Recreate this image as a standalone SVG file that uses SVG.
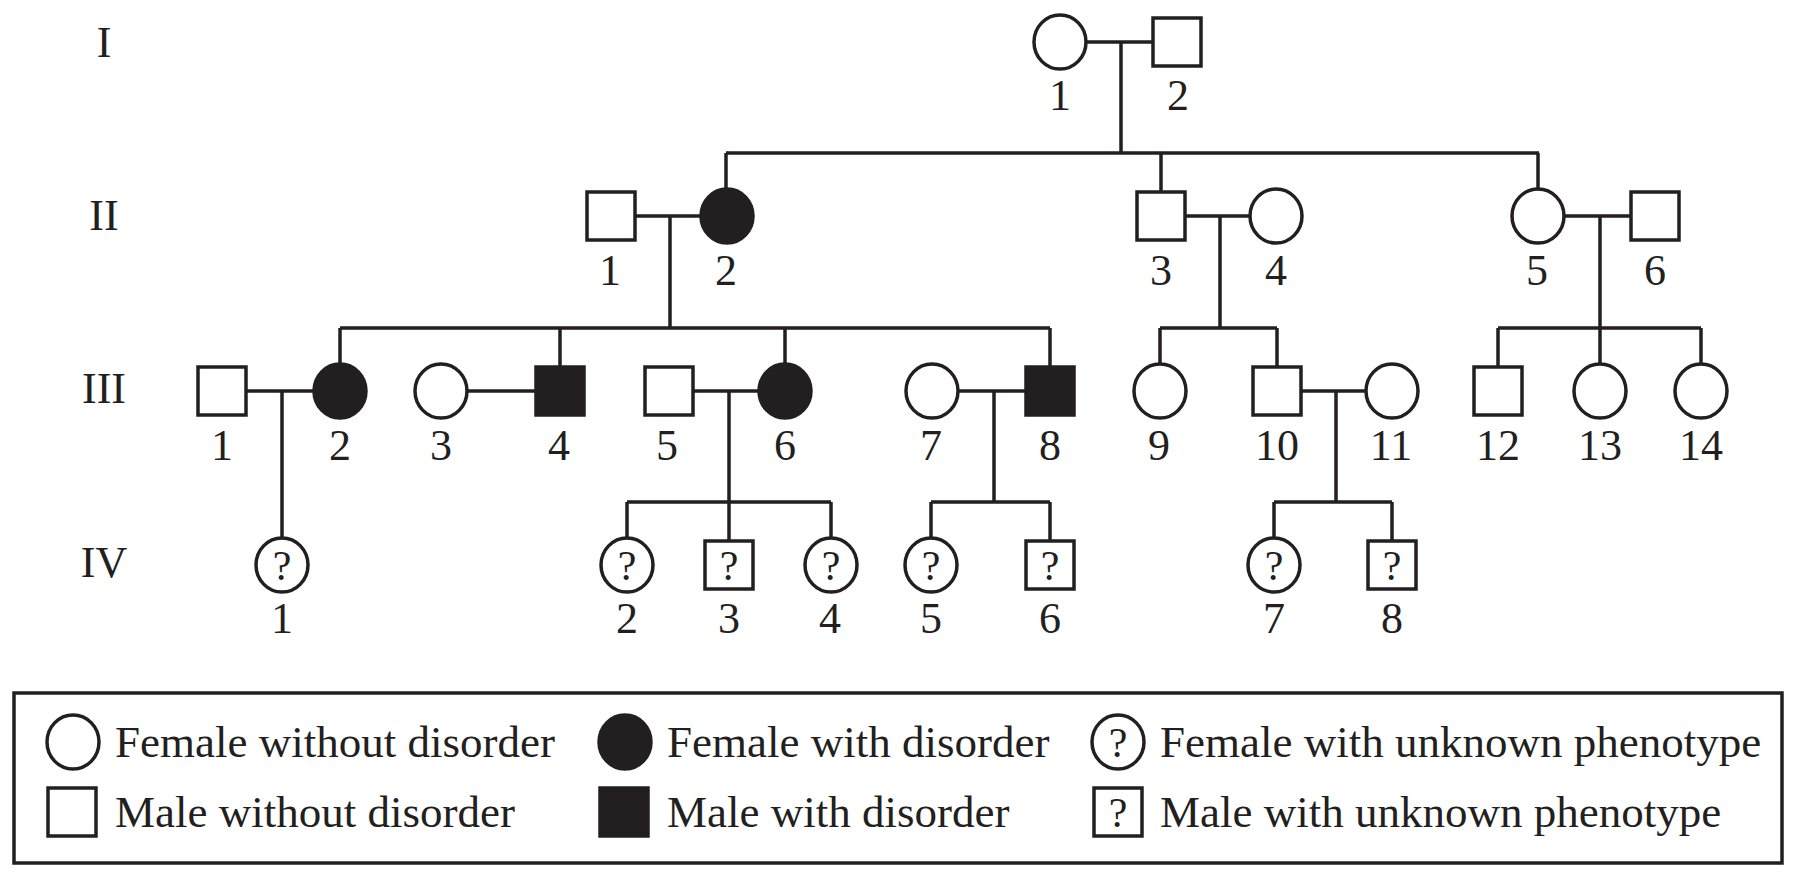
<svg xmlns="http://www.w3.org/2000/svg" width="1800" height="880" viewBox="0 0 1800 880">
<style>
.s{fill:#fff;stroke:#231f20;stroke-width:3.5}
.a{fill:#231f20;stroke:#231f20;stroke-width:3.5}
.ln{fill:none;stroke:#231f20;stroke-width:3.5}
text{font-family:"Liberation Serif","Times New Roman",serif;fill:#231f20}
.n{font-size:44px;text-anchor:middle}
.g{font-size:44px;text-anchor:middle}
.q{font-size:42px;text-anchor:middle}
.lg{font-size:45px}
</style>
<defs>
<ellipse id="fc" rx="26" ry="27" class="s"/>
<ellipse id="fa" rx="26" ry="27" class="a"/>
<rect id="mc" x="-24" y="-24" width="48" height="48" class="s"/>
<rect id="ma" x="-24" y="-24" width="48" height="48" class="a"/>
</defs>
<g id="generation-labels">
<text class="g" x="104" y="57">I</text>
<text class="g" x="104" y="230">II</text>
<text class="g" x="104" y="403">III</text>
<text class="g" x="104" y="577">IV</text>
</g>
<g id="connectors">
<path class="ln" d="M1086 42H1153M1121 42V153M726 153H1539M726 153V189M1161 153V192M1538 153V189"/>
<path class="ln" d="M635 216H701M670 216V328M340 328H1050M340 328V364M560 328V367M785 328V364M1050 328V367"/>
<path class="ln" d="M1185 216H1250M1220 216V328M1160 328H1277M1160 328V364M1277 328V367"/>
<path class="ln" d="M1564 216H1631M1600 216V364M1498 328H1701M1498 328V367M1701 328V364"/>
<path class="ln" d="M246 391H314M282 391V538"/>
<path class="ln" d="M467 391H536"/>
<path class="ln" d="M693 391H759M729 391V502M627 502H831M627 502V538M729 502V541M831 502V538"/>
<path class="ln" d="M958 391H1026M994 391V502M931 502H1050M931 502V538M1050 502V541"/>
<path class="ln" d="M1301 391H1366M1336 391V502M1274 502H1392M1274 502V538M1392 502V541"/>
</g>
<g id="I-1"><use href="#fc" x="1060" y="42"/><text class="n" x="1060" y="110">1</text></g>
<g id="I-2"><use href="#mc" x="1177" y="42"/><text class="n" x="1178" y="110">2</text></g>
<g id="II-1"><use href="#mc" x="611" y="216"/><text class="n" x="610" y="285">1</text></g>
<g id="II-2"><use href="#fa" x="727" y="216"/><text class="n" x="726" y="285">2</text></g>
<g id="II-3"><use href="#mc" x="1161" y="216"/><text class="n" x="1161" y="285">3</text></g>
<g id="II-4"><use href="#fc" x="1276" y="216"/><text class="n" x="1276" y="285">4</text></g>
<g id="II-5"><use href="#fc" x="1538" y="216"/><text class="n" x="1537" y="285">5</text></g>
<g id="II-6"><use href="#mc" x="1655" y="216"/><text class="n" x="1655" y="285">6</text></g>
<g id="III-1"><use href="#mc" x="222" y="391"/><text class="n" x="222" y="460">1</text></g>
<g id="III-2"><use href="#fa" x="340" y="391"/><text class="n" x="340" y="460">2</text></g>
<g id="III-3"><use href="#fc" x="441" y="391"/><text class="n" x="441" y="460">3</text></g>
<g id="III-4"><use href="#ma" x="560" y="391"/><text class="n" x="559" y="460">4</text></g>
<g id="III-5"><use href="#mc" x="669" y="391"/><text class="n" x="667" y="460">5</text></g>
<g id="III-6"><use href="#fa" x="785" y="391"/><text class="n" x="785" y="460">6</text></g>
<g id="III-7"><use href="#fc" x="932" y="391"/><text class="n" x="931" y="460">7</text></g>
<g id="III-8"><use href="#ma" x="1050" y="391"/><text class="n" x="1050" y="460">8</text></g>
<g id="III-9"><use href="#fc" x="1160" y="391"/><text class="n" x="1159" y="460">9</text></g>
<g id="III-10"><use href="#mc" x="1277" y="391"/><text class="n" x="1277" y="460">10</text></g>
<g id="III-11"><use href="#fc" x="1392" y="391"/><text class="n" x="1391" y="460">11</text></g>
<g id="III-12"><use href="#mc" x="1498" y="391"/><text class="n" x="1498" y="460">12</text></g>
<g id="III-13"><use href="#fc" x="1600" y="391"/><text class="n" x="1600" y="460">13</text></g>
<g id="III-14"><use href="#fc" x="1701" y="391"/><text class="n" x="1701" y="460">14</text></g>
<g id="IV-1"><use href="#fc" x="282" y="565"/><text class="q" x="282" y="580">?</text><text class="n" x="282" y="633">1</text></g>
<g id="IV-2"><use href="#fc" x="627" y="565"/><text class="q" x="627" y="580">?</text><text class="n" x="627" y="633">2</text></g>
<g id="IV-3"><use href="#mc" x="729" y="565"/><text class="q" x="729" y="580">?</text><text class="n" x="729" y="633">3</text></g>
<g id="IV-4"><use href="#fc" x="831" y="565"/><text class="q" x="831" y="580">?</text><text class="n" x="830" y="633">4</text></g>
<g id="IV-5"><use href="#fc" x="931" y="565"/><text class="q" x="931" y="580">?</text><text class="n" x="931" y="633">5</text></g>
<g id="IV-6"><use href="#mc" x="1050" y="565"/><text class="q" x="1050" y="580">?</text><text class="n" x="1050" y="633">6</text></g>
<g id="IV-7"><use href="#fc" x="1274" y="565"/><text class="q" x="1274" y="580">?</text><text class="n" x="1274" y="633">7</text></g>
<g id="IV-8"><use href="#mc" x="1392" y="565"/><text class="q" x="1392" y="580">?</text><text class="n" x="1392" y="633">8</text></g>
<g id="legend">
<rect x="14" y="693" width="1768" height="170" fill="none" stroke="#231f20" stroke-width="3.5"/>
<use href="#fc" x="73" y="742"/>
<text class="lg" x="115" y="757">Female without disorder</text>
<use href="#mc" x="72" y="812"/>
<text class="lg" x="115" y="827">Male without disorder</text>
<use href="#fa" x="625" y="742"/>
<text class="lg" x="667" y="757">Female with disorder</text>
<use href="#ma" x="624" y="812"/>
<text class="lg" x="667" y="827">Male with disorder</text>
<use href="#fc" x="1118" y="742"/>
<text class="q" x="1118" y="757">?</text>
<text class="lg" x="1160" y="757">Female with unknown phenotype</text>
<use href="#mc" x="1118" y="812"/>
<text class="q" x="1118" y="827">?</text>
<text class="lg" x="1160" y="827">Male with unknown phenotype</text>
</g>
</svg>
